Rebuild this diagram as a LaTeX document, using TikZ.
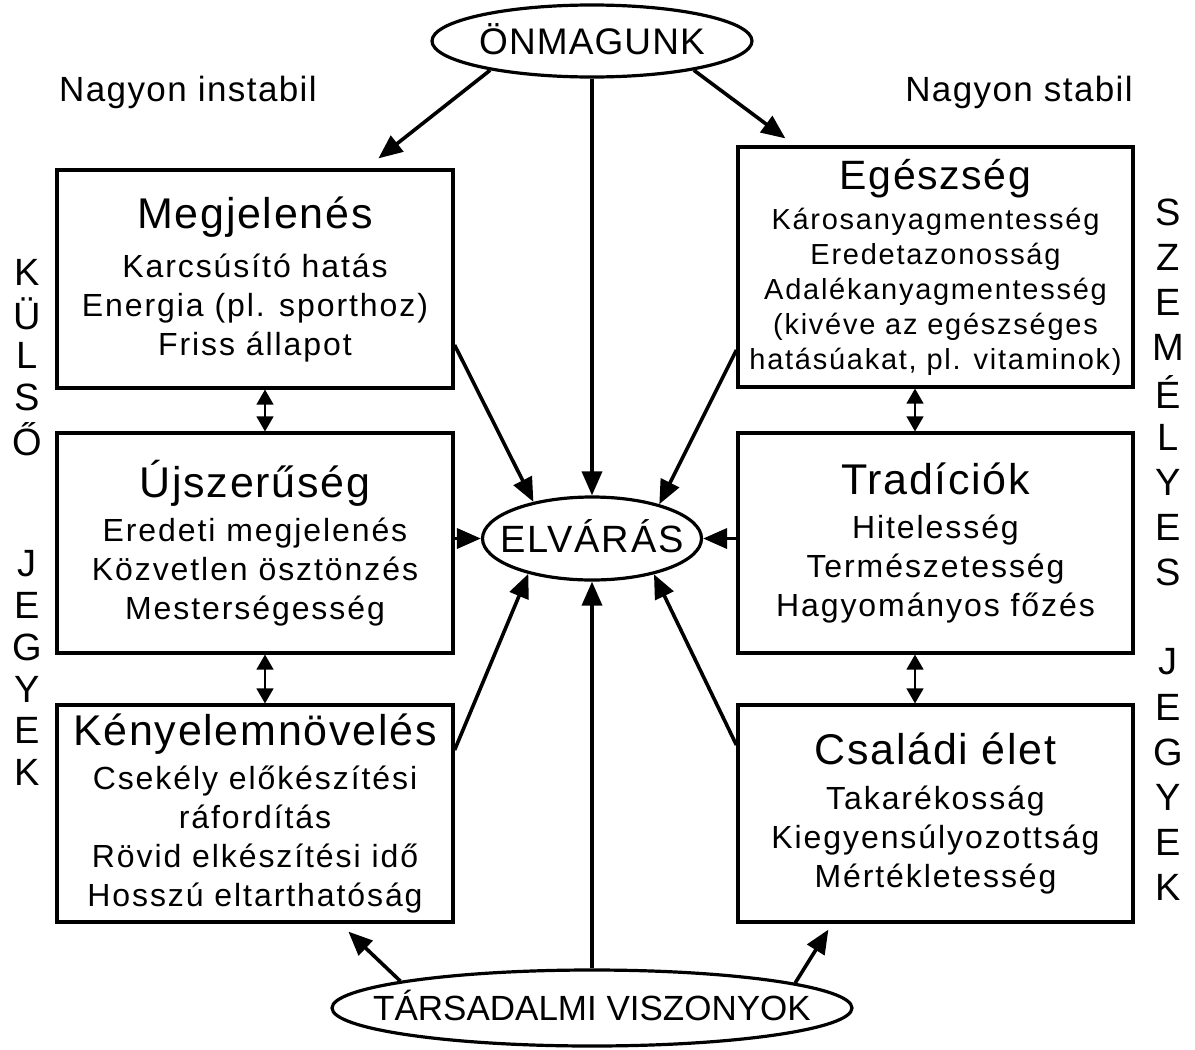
\documentclass[tikz,border=0pt]{standalone}
\usepackage{fontspec}
\setmainfont{Liberation Sans}
\newfontfamily\fsub[LetterSpace=6]{Liberation Sans}
\newfontfamily\fttl[LetterSpace=4]{Liberation Sans}
\newfontfamily\fell[LetterSpace=3]{Liberation Sans}
\newfontfamily\felv[LetterSpace=5]{Liberation Sans}
\usetikzlibrary{arrows.meta,shapes.geometric}
\newcommand\ctext[1]{\makebox[0pt]{\raisebox{-0.358em}[0pt][0pt]{#1}}}
\begin{document}
\begin{tikzpicture}[x=0.5pt,y=-0.5pt,
  box/.style={draw, line width=1.6pt, minimum width=198pt, inner sep=0pt, align=center,
    font=\fsub\fontsize{16}{19.5}\selectfont},
  ell/.style={ellipse, draw, line width=1.6pt, inner sep=0pt},
  arr/.style={line width=1.8pt, -{Triangle[length=12pt,width=10pt]}},
  dbl/.style={line width=0.7pt, {Triangle[length=7.5pt,width=8.5pt]}-{Triangle[length=7.5pt,width=8.5pt]}},
  lab/.style={font=\fttl\fontsize{17.5}{20}\selectfont, inner sep=0pt},
  vlet/.style={font=\fontsize{19}{20}\selectfont, inner sep=0pt}
]
\useasboundingbox (0,0) rectangle (1195,1050);

% ellipses
\node[ell, minimum width=160pt, minimum height=36pt] (onm) at (592,41)
  {\fell\fontsize{18.5}{20}\selectfont\ctext{ÖNMAGUNK}};
\node[ell, minimum width=109.5pt, minimum height=41.5pt] (elv) at (592,538.5)
  {\felv\fontsize{19}{20}\selectfont\ctext{ELVÁRÁS}};
\node[ell, minimum width=260pt, minimum height=38pt] (tar) at (592,1008)
  {\fontsize{17.5}{20}\selectfont\ctext{TÁRSADALMI VISZONYOK}};

% boxes
\node[box, minimum height=109pt] (megj) at (255,279)
  {{\fttl\fontsize{21.5}{24}\selectfont Megjelenés}\\[5pt]
   Karcsúsító hatás\\ Energia (pl. sporthoz)\\ Friss állapot};
\node[box, minimum height=110pt] (ujsz) at (255,543)
  {{\fttl\fontsize{21.5}{24}\selectfont Újszerűség}\\[2.5pt]
   Eredeti megjelenés\\ Közvetlen ösztönzés\\ Mesterségesség};
\node[box, minimum height=108.5pt] (keny) at (255,813.5)
  {{\fttl\fontsize{21.5}{24}\selectfont Kényelemnövelés}\\[2.5pt]
   Csekély előkészítési\\ ráfordítás\\ Rövid elkészítési idő\\ Hosszú eltarthatóság};
\node[box, minimum height=120pt, minimum width=197.5pt,
      font=\fsub\fontsize{14.5}{17.5}\selectfont] (ege) at (935.5,267)
  {{\fttl\fontsize{20.5}{22}\selectfont Egészség}\\[2.5pt]
   Károsanyagmentesség\\ Eredetazonosság\\ Adalékanyagmentesség\\
   (kivéve az egészséges\\ hatásúakat, pl. vitaminok)};
\node[box, minimum height=110pt, minimum width=197.5pt] (trad) at (935.5,543)
  {{\fttl\fontsize{21.5}{24}\selectfont Tradíciók}\\[2.5pt]
   Hitelesség\\ Természetesség\\ Hagyományos főzés};
\node[box, minimum height=108.5pt, minimum width=197.5pt] (csal) at (935.5,813.5)
  {{\fttl\fontsize{21.5}{24}\selectfont Családi élet}\\[3pt]
   Takarékosság\\ Kiegyensúlyozottság\\ Mértékletesség};

% side labels
\node[lab] (instab) at (188,92) {Nagyon instabil};
\node[lab] (stab) at (1019,92) {Nagyon stabil};

% vertical letters
\foreach \ch/\i in {K/0,Ü/1,L/2,S/3,Ő/4,J/7,E/8,G/9,Y/10,E/11,K/12}
  \node[vlet] (kl\i) at (27,272+41.7*\i) {\ch};
\foreach \ch/\i in {S/0,Z/1,E/2,M/3,É/4,L/5,Y/6,E/7,S/8,J/10,E/11,G/12,Y/13,E/14,K/15}
  \node[vlet] (sz\i) at (1168,212+45*\i) {\ch};

% arrows from ÖNMAGUNK
\draw[arr] (onm.196) -- ([xshift=161.5pt,yshift=5pt]megj.north west);
\draw[arr] (onm.344) -- ([xshift=24.5pt,yshift=3.5pt]ege.north west);
\draw[arr] (onm.south) -- (elv.north);

% arrows into ELVÁRÁS
\draw[arr] ([yshift=-33pt]megj.east) -- (elv.148);
\draw[arr] ([yshift=-41.5pt]ege.west) -- (elv.27);
\draw[arr] (ujsz.east |- elv.west) -- (elv.west);
\draw[arr] (trad.west |- elv.east) -- (elv.east);
\draw[arr] ([yshift=31.75pt]keny.east) -- (elv.209);
\draw[arr] ([yshift=34.25pt]csal.west) -- (elv.330);
\draw[arr] (tar.north) -- (elv.south);

% arrows from TÁRSADALMI VISZONYOK
\draw[arr] (tar.172.5) -- ([xshift=146.5pt,yshift=-4pt]keny.south west);
\draw[arr] (tar.7.7) -- ([xshift=46pt,yshift=-3pt]csal.south west);

% double arrows between boxes
\coordinate (dl) at (265,0);
\coordinate (dr) at (915,0);
\draw[dbl] (megj.south -| dl) -- (ujsz.north -| dl);
\draw[dbl] (ujsz.south -| dl) -- (keny.north -| dl);
\draw[dbl] (ege.south -| dr) -- (trad.north -| dr);
\draw[dbl] (trad.south -| dr) -- (csal.north -| dr);
\end{tikzpicture}
\end{document}
